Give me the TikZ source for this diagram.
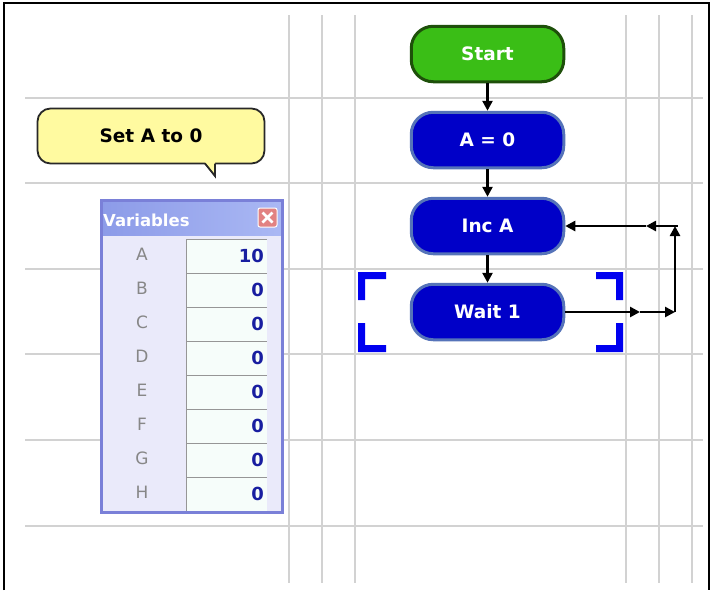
\documentclass[tikz,border=0pt]{standalone}
\usepackage{fontspec}
\setmainfont{DejaVu Sans}
\usetikzlibrary{arrows.meta}
\definecolor{gridc}{RGB}{210,210,210}
\definecolor{startgreen}{RGB}{58,190,22}
\definecolor{startedge}{RGB}{30,80,10}
\definecolor{procblue}{RGB}{0,0,200}
\definecolor{procedge}{RGB}{85,115,185}
\definecolor{bracketblue}{RGB}{0,0,240}
\definecolor{calloutyellow}{RGB}{255,250,160}
\definecolor{calloutedge}{RGB}{40,40,40}
\definecolor{panelbody}{RGB}{234,234,250}
\definecolor{panelborder}{RGB}{122,128,216}
\definecolor{titleleft}{RGB}{140,155,232}
\definecolor{titleright}{RGB}{170,184,244}
\definecolor{boxfill}{RGB}{246,253,250}
\definecolor{boxedge}{RGB}{150,150,150}
\definecolor{valueblue}{RGB}{24,30,160}
\definecolor{lettergray}{RGB}{135,135,135}
\definecolor{closefill}{RGB}{226,130,130}
\begin{document}
\begin{tikzpicture}[x=1pt,y=-1pt,
  gridline/.style={draw=gridc, line width=1.2pt},
  flow/.style={rounded corners=22pt, minimum width=152.5pt, minimum height=55.5pt,
    text=white, font=\fontsize{18.5}{20}\selectfont\bfseries, line width=3pt, inner sep=0pt},
  startbox/.style={flow, fill=startgreen, draw=startedge},
  procbox/.style={flow, fill=procblue, draw=procedge},
  arrow/.style={-{Triangle[length=10pt,width=10pt]}, line width=2.6pt, black},
  bracket/.style={fill=bracketblue},
  callout/.style={draw=calloutedge, line width=1.8pt, fill=calloutyellow, rounded corners=13pt,
    minimum width=227pt, minimum height=55pt, font=\fontsize{18.5}{20}\selectfont\bfseries, inner sep=0pt},
  letter/.style={text=lettergray, font=\fontsize{17}{19}\selectfont, inner sep=0pt},
  value/.style={text=valueblue, font=\fontsize{18}{20}\selectfont\bfseries, inner sep=0pt, anchor=east},
  vtitle/.style={text=white, font=\fontsize{16.5}{18}\selectfont\bfseries, inner sep=0pt, anchor=west},
  closebtn/.style={fill=closefill, draw=white, line width=1pt, rounded corners=2pt,
    minimum width=19pt, minimum height=19pt, inner sep=0pt}
]
\useasboundingbox (0,0) rectangle (711,590);
\fill[white] (0,0) rectangle (711,590);
% grid
\foreach \x in {289,322,355,626,659,692} \draw[gridline] (\x,15) -- (\x,583);
\foreach \y in {98,183,269,354,440,526} \draw[gridline] (25,\y) -- (703,\y);
% frame
\draw[black, line width=2.4pt] (4,590) -- (4,3) -- (709,3) -- (709,590);

% flowchart nodes
\node[startbox] (start) at (487.5,54) {Start};
\node[procbox] (a0) at (487.5,140) {A = 0};
\node[procbox] (inc) at (487.5,226) {Inc A};
\node[procbox] (wait) at (487.5,312) {Wait 1};

\draw[arrow] (start) -- (a0);
\draw[arrow] (a0) -- (inc);
\draw[arrow] (inc) -- (wait);

% loop back
\coordinate (m1) at (640,312);
\coordinate (c2) at (675,312);
\coordinate (c3) at (675,226);
\coordinate (m2) at (646,226);
\draw[arrow] (wait.east) -- (m1);
\draw[arrow] (m1) -- (c2);
\draw[arrow] (c2) -- (c3);
\draw[line width=2.6pt] (c3) -- ++(3,0);
\draw[arrow] (c3) -- (m2);
\draw[arrow] (m2) -- (inc.east);

% selection brackets
\fill[bracket] (358,272) -- (386,272) -- (386,279) -- (365,279) -- (365,300) -- (358,300) -- cycle;
\fill[bracket] (358,323) -- (365,323) -- (365,345) -- (386,345) -- (386,352) -- (358,352) -- cycle;
\fill[bracket] (623,272) -- (596,272) -- (596,279) -- (616,279) -- (616,300) -- (623,300) -- cycle;
\fill[bracket] (623,323) -- (616,323) -- (616,345) -- (596,345) -- (596,352) -- (623,352) -- cycle;

% callout
\node[callout] (note) at (151,136) {Set A to 0};
\fill[calloutyellow] (205,162) -- (215,176) -- (215,162) -- cycle;
\draw[calloutedge, line width=1.8pt] (205,163.5) -- (215,176) -- (215,163.5);

% variables panel
\fill[panelbody] (100,199) rectangle (284,514);
\shade[left color=titleleft, right color=titleright] (101,200) rectangle (283,235);
\draw[panelborder, line width=3.2pt] (101.5,200.5) rectangle (282.5,512.5);
\node[vtitle] (vt) at (103,220) {Variables};
\node[closebtn] (close) at (267.5,217.5) {};
\draw[white, line width=2.6pt] (262.5,212.5) -- (272.5,222.5) (272.5,212.5) -- (262.5,222.5);
\foreach \l/\v [count=\i from 0] in {A/10,B/0,C/0,D/0,E/0,F/0,G/0,H/0}{
  \fill[boxfill] (186,{239+34*\i}) rectangle (267,{273+34*\i});
  \draw[boxedge, line width=1.2pt] (186.5,{273+34*\i}) -- (186.5,{239.5+34*\i}) -- (267,{239.5+34*\i});
  \node[letter] (lab\l) at (142,{254+34*\i}) {\l};
  \node[value] (val\l) at (264,{256+34*\i}) {\v};
}
\end{tikzpicture}
\end{document}
